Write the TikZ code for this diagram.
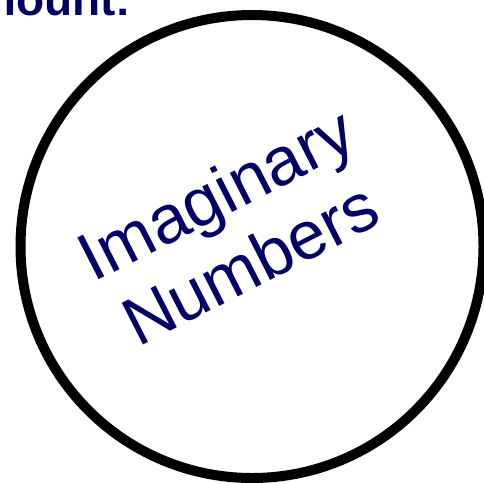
\documentclass[tikz,border=0pt]{standalone}
\usepackage{fontspec}
\setmainfont{Liberation Sans}
\definecolor{navy}{RGB}{0,0,102}
\begin{document}
\begin{tikzpicture}[x=1pt,y=-1pt,
  lbl/.style={text=navy,inner sep=0pt,anchor=base,rotate=27,font=\fontsize{68}{78}\selectfont}]
\useasboundingbox (0,0) rectangle (484,482);
\node[text=navy,inner sep=0pt,anchor=base west,font=\fontsize{46}{52}\selectfont\bfseries] (title) at (-58,15) {Amount:};
\node[draw=black,line width=10pt,circle,minimum size=463pt,inner sep=0pt] (c) at (252,246.5) {};
\node[lbl] (l1) at (227,215) {Imaginary};
\node[lbl] (l2) at (261,285) {Numbers};
\end{tikzpicture}
\end{document}
